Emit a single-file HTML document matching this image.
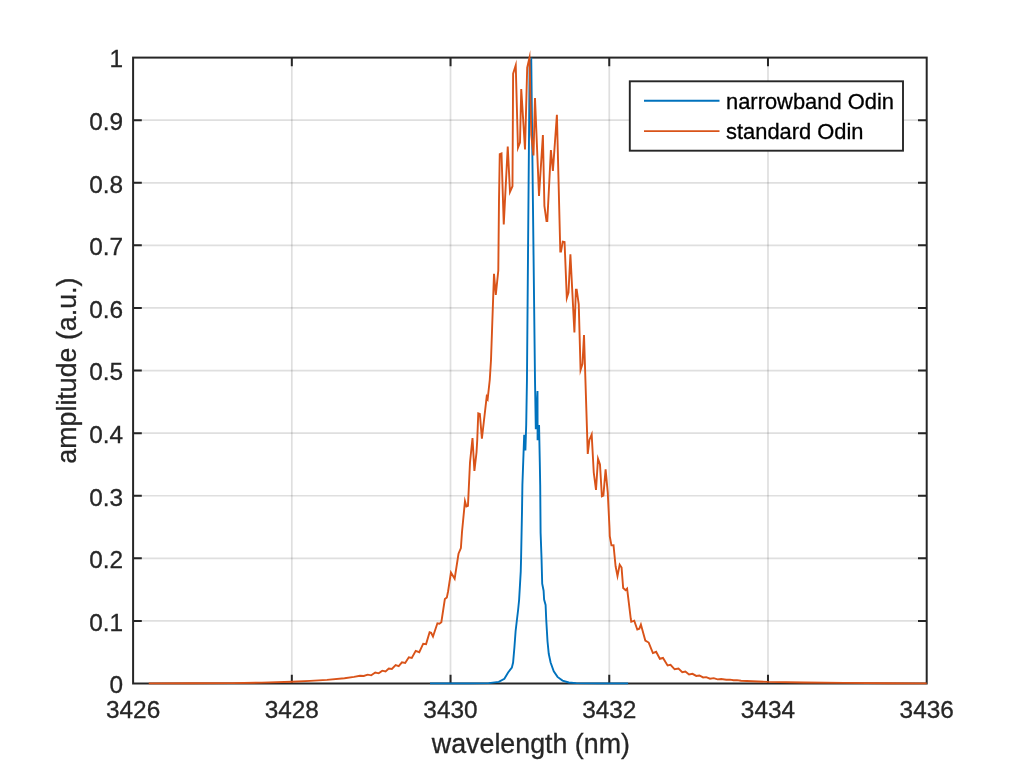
<!DOCTYPE html>
<html><head><meta charset="utf-8"><title>plot</title>
<style>
html,body{margin:0;padding:0;background:#fff;}
body{width:1024px;height:768px;overflow:hidden;}
svg{display:block}
text{font-family:"Liberation Sans",Arial,Helvetica,sans-serif;fill:#262626;stroke:#262626;stroke-width:0.3px;}
.tk{font-size:24.4px}
.lb{font-size:26.8px}
.lg{font-size:21.9px;fill:#000;stroke:#000}
</style></head><body>
<svg width="1024" height="768" viewBox="0 0 1024 768">
<rect width="1024" height="768" fill="#fff"/>
<g stroke="#262626" stroke-opacity="0.15" stroke-width="1.7" fill="none"><path d="M291.82 57.6V683.5M450.54 57.6V683.5M609.26 57.6V683.5M767.98 57.6V683.5"/><path d="M133.1 620.91H926.7M133.1 558.32H926.7M133.1 495.73H926.7M133.1 433.14H926.7M133.1 370.55H926.7M133.1 307.96H926.7M133.1 245.37H926.7M133.1 182.78H926.7M133.1 120.19H926.7"/></g>
<path d="M291.82 683.5v-8.7M291.82 57.6v8.7M450.54 683.5v-8.7M450.54 57.6v8.7M609.26 683.5v-8.7M609.26 57.6v8.7M767.98 683.5v-8.7M767.98 57.6v8.7M133.1 620.91h8.7M926.7 620.91h-8.7M133.1 558.32h8.7M926.7 558.32h-8.7M133.1 495.73h8.7M926.7 495.73h-8.7M133.1 433.14h8.7M926.7 433.14h-8.7M133.1 370.55h8.7M926.7 370.55h-8.7M133.1 307.96h8.7M926.7 307.96h-8.7M133.1 245.37h8.7M926.7 245.37h-8.7M133.1 182.78h8.7M926.7 182.78h-8.7M133.1 120.19h8.7M926.7 120.19h-8.7" stroke="#262626" stroke-width="2.0" fill="none"/>
<rect x="133.1" y="57.6" width="793.6" height="625.9" fill="none" stroke="#262626" stroke-width="2.0"/>
<g fill="none" stroke-width="1.9" stroke-linejoin="miter" stroke-miterlimit="10">
<polyline points="430.00,683.40 470.00,683.40 488.75,683.10 498.74,681.88 504.38,678.73 508.10,672.50 511.88,667.49 513.10,662.50 514.40,647.50 515.60,631.25 516.90,620.00 518.10,610.00 519.10,600.00 520.75,571.40 521.10,557.30 522.00,511.60 522.40,485.00 524.20,434.80 525.40,450.40 526.20,425.00 526.95,380.00 529.64,62.01 531.26,59.68 535.00,380.00 535.80,429.20 537.50,391.00 537.60,440.20 539.06,425.00 539.80,462.50 540.20,485.00 540.60,532.70 541.50,557.30 542.20,583.70 543.60,590.70 544.11,599.50 545.59,605.00 546.25,620.00 547.50,641.25 548.75,653.75 550.60,662.50 553.76,671.25 557.51,676.89 562.51,680.59 568.75,682.49 576.25,683.10 600.00,683.40 628.10,683.40" stroke="#0072bd"/>
<polyline points="148.75,683.40 190.00,683.20 232.00,683.10 262.00,682.60 292.00,681.70 310.00,680.90 327.00,679.90 344.50,678.20 354.00,676.90 360.00,675.81 363.75,675.98 367.75,674.63 371.23,675.32 375.27,672.58 378.73,673.31 382.27,670.70 385.57,671.48 388.78,668.59 391.86,668.99 395.64,665.15 398.70,666.08 401.95,662.38 405.17,662.93 408.83,657.28 411.80,657.89 415.70,650.88 419.27,652.19 423.21,643.71 426.08,644.14 429.60,632.29 431.15,632.85 432.99,636.49 437.41,623.27 439.38,623.66 441.34,622.16 444.86,599.04 446.85,597.47 448.10,591.25 450.96,572.46 454.65,578.75 458.51,553.75 460.89,548.00 462.00,532.00 464.97,501.15 466.46,506.55 467.96,505.90 470.00,462.50 472.50,438.00 474.40,471.00 476.50,452.50 477.25,440.00 478.27,413.29 479.86,413.86 481.90,438.75 486.67,396.79 487.68,398.84 489.75,380.00 491.00,360.00 494.00,273.75 495.80,295.00 498.30,270.50 499.00,200.00 499.75,154.10 501.51,153.36 503.75,224.40 507.75,146.50 509.98,191.89 512.48,186.25 513.11,73.75 515.74,65.31 517.96,147.70 519.99,142.50 521.25,89.00 525.00,149.40 527.20,67.50 529.50,57.60 531.30,135.00 533.50,155.50 535.00,98.10 539.00,196.00 542.90,135.10 544.40,206.00 546.50,221.00 547.30,221.00 550.90,150.00 552.90,171.00 556.90,114.75 560.30,251.60 561.00,251.60 562.74,241.62 564.56,242.05 566.80,297.91 568.49,292.50 570.40,254.40 574.40,332.50 575.90,289.70 576.70,289.70 578.75,304.40 580.56,369.92 582.49,363.75 584.00,335.00 587.75,454.00 589.41,440.00 591.69,434.52 593.75,472.50 596.00,490.00 598.02,458.78 599.99,464.40 601.88,496.25 603.38,495.52 605.60,469.40 607.75,492.50 609.50,528.00 609.75,536.25 611.44,545.36 613.52,545.27 615.60,566.25 617.50,575.98 619.70,564.65 621.57,567.51 623.17,588.07 625.59,590.23 627.10,588.68 630.80,619.00 631.27,621.77 634.22,620.63 637.28,629.59 639.34,628.69 640.90,624.60 645.31,640.55 648.71,642.54 652.91,653.13 656.14,651.81 659.85,658.77 663.01,657.96 667.58,665.40 670.55,664.74 674.64,669.27 678.47,668.61 682.28,672.14 685.38,671.59 689.02,674.50 692.49,673.81 696.26,675.94 699.39,675.45 703.11,677.46 706.25,677.13 710.00,678.71 713.75,678.13 717.50,679.38 721.25,679.01 726.25,679.79 730.00,679.61 733.50,680.29 737.00,680.11 741.00,680.80 768.00,681.90 803.50,682.50 844.00,682.90 890.00,683.20 926.70,683.40" stroke="#d95319"/>
</g>
<text class="tk" x="133.1" y="717.6" text-anchor="middle">3426</text>
<text class="tk" x="291.8" y="717.6" text-anchor="middle">3428</text>
<text class="tk" x="450.5" y="717.6" text-anchor="middle">3430</text>
<text class="tk" x="609.3" y="717.6" text-anchor="middle">3432</text>
<text class="tk" x="768.0" y="717.6" text-anchor="middle">3434</text>
<text class="tk" x="926.7" y="717.6" text-anchor="middle">3436</text>
<text class="tk" x="123.2" y="693.3" text-anchor="end">0</text>
<text class="tk" x="123.2" y="630.7" text-anchor="end">0.1</text>
<text class="tk" x="123.2" y="568.1" text-anchor="end">0.2</text>
<text class="tk" x="123.2" y="505.5" text-anchor="end">0.3</text>
<text class="tk" x="123.2" y="442.9" text-anchor="end">0.4</text>
<text class="tk" x="123.2" y="380.4" text-anchor="end">0.5</text>
<text class="tk" x="123.2" y="317.8" text-anchor="end">0.6</text>
<text class="tk" x="123.2" y="255.2" text-anchor="end">0.7</text>
<text class="tk" x="123.2" y="192.6" text-anchor="end">0.8</text>
<text class="tk" x="123.2" y="130.0" text-anchor="end">0.9</text>
<text class="tk" x="123.2" y="67.4" text-anchor="end">1</text>
<text class="lb" x="530.9" y="752.8" text-anchor="middle">wavelength (nm)</text>
<text class="lb" transform="translate(76.1 370.6) rotate(-90)" text-anchor="middle">amplitude (a.u.)</text>
<rect x="629.8" y="81.3" width="273.2" height="69.4" fill="#fff" stroke="#262626" stroke-width="1.9"/>
<path d="M644 100.7H719.5" stroke="#0072bd" stroke-width="1.9"/><path d="M644 131.1H719.5" stroke="#d95319" stroke-width="1.9"/>
<text class="lg" x="726" y="109">narrowband Odin</text>
<text class="lg" x="726" y="139.4">standard Odin</text>
</svg></body></html>
